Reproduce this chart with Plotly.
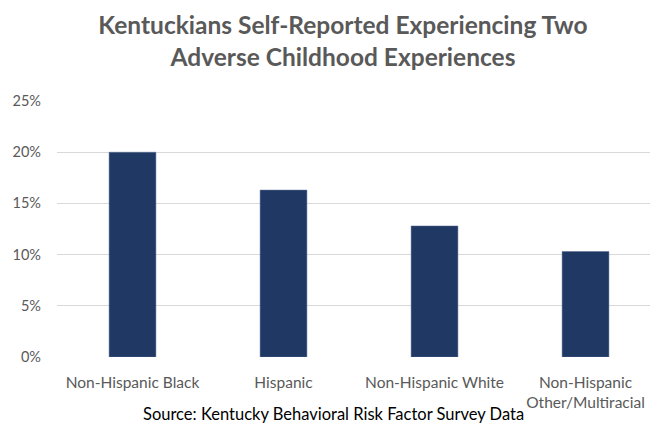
import plotly.graph_objects as go

categories = ["Non-Hispanic Black", "Hispanic", "Non-Hispanic White", "Non-Hispanic<br>Other/Multiracial"]
values = [0.200, 0.163, 0.128, 0.103]
y_ticks = [0, 0.05, 0.10, 0.15, 0.20, 0.25]
y_labels = ["0%", "5%", "10%", "15%", "20%", "25%"]

fig = go.Figure()
fig.add_trace(go.Bar(
    x=list(range(len(categories))), y=values,
    width=0.31,
    marker=dict(color="#1F3864", line=dict(color="#5a6f96", width=0.5)),
))

fig.update_layout(
    width=650, height=423,
    margin=dict(l=57, r=0, t=101, b=66),
    paper_bgcolor="white", plot_bgcolor="white",
    showlegend=False,
    title=dict(
        text="Kentuckians Self-Reported Experiencing Two<br>Adverse Childhood Experiences",
        x=343/650, xanchor="center", xref="container",
        y=1 - 34/423, yanchor="middle", yref="container",
        font=dict(family="Lato", size=24.5, color="#595959", weight="bold"),
    ),
    xaxis=dict(
        range=[-0.5, 3.427],
        tickmode="array", tickvals=list(range(len(categories))), ticktext=categories,
        showgrid=False, zeroline=False, showline=False, ticks="",
        tickfont=dict(family="Lato", size=15.5, color="#595959"),
        ticklabelstandoff=14,
    ),
    yaxis=dict(
        range=[0, 0.25],
        tickmode="array", tickvals=y_ticks, ticktext=y_labels,
        showgrid=True, gridcolor="#d9d9d9", gridwidth=1,
        zeroline=False, showline=False, ticks="",
        tickfont=dict(family="Lato", size=14.5, color="#595959"),
        ticklabelstandoff=15,
    ),
    annotations=[dict(
        text="Source: Kentucky Behavioral Risk Factor Survey Data",
        x=(333 - 57) / (650 - 57), y=(357 - 414) / (357 - 101),
        xref="x domain", yref="y domain",
        xanchor="center", yanchor="middle", showarrow=False,
        font=dict(family="Lato", size=16.5, color="#000000"),
    )],
)

fig.write_html("out.html")
